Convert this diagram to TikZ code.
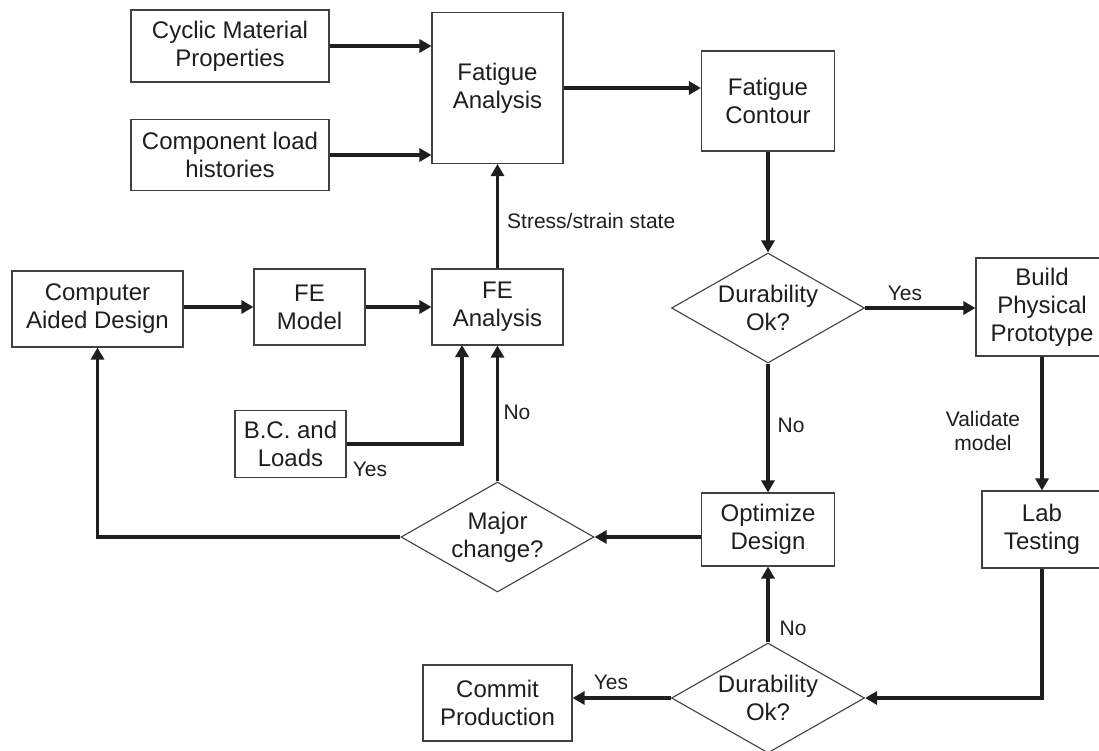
\documentclass[tikz,border=0pt]{standalone}
\usepackage{fontspec}
\setmainfont{Liberation Sans}
\usepackage{tikz}
\usetikzlibrary{arrows.meta}
\usetikzlibrary{shapes.geometric}
\definecolor{ink}{HTML}{1E1E1E}
\tikzstyle{block}=[rectangle, draw=ink!85, line width=1.1pt, text=ink, align=center, inner sep=0pt, font=\fontsize{24}{28}\selectfont]
\tikzstyle{decide}=[diamond, aspect=1.75, draw=ink!85, line width=1.1pt, text=ink, align=center, inner sep=0pt, minimum width=193pt, minimum height=110pt, font=\fontsize{24}{28}\selectfont]
\tikzstyle{flow}=[draw=ink, line width=3.2pt, -{Triangle[length=12pt,width=13pt]}]
\tikzstyle{note}=[text=ink, align=center, inner sep=0pt, font=\fontsize{21}{24.5}\selectfont]

\begin{document}
\begin{tikzpicture}[x=1pt, y=-1pt]
    \useasboundingbox (0,0) rectangle (1099,751);
    \clip (0,0) rectangle (1099,751);

    % boxes
    \node[block, minimum width=198pt, minimum height=72pt] (cyclic) at (230,46) {Cyclic Material\\Properties};
    \node[block, minimum width=198pt, minimum height=71pt] (comp) at (230,155) {Component load\\histories};
    \node[block, minimum width=131pt, minimum height=151pt] (fatan) at (497.5,88) {Fatigue\\Analysis};
    \node[block, minimum width=133pt, minimum height=100pt] (contour) at (768,101) {Fatigue\\Contour};
    \node[block, minimum width=171pt, minimum height=76pt] (cad) at (97.5,309) {Computer\\Aided Design};
    \node[block, minimum width=111pt, minimum height=76pt] (fem) at (309.5,307) {FE\\Model};
    \node[block, minimum width=131pt, minimum height=76pt] (fea) at (497.5,307) {FE\\Analysis};
    \node[decide] (dur1) at (768,308) {Durability\\Ok?};
    \node[block, minimum width=132pt, minimum height=98pt] (build) at (1042,307) {Build\\Physical\\Prototype};
    \node[block, minimum width=111pt, minimum height=67pt] (bcl) at (290.5,444) {B.C. and\\Loads};
    \node[decide] (major) at (497.5,537) {Major\\change?};
    \node[block, minimum width=133pt, minimum height=73pt] (optim) at (768,529.5) {Optimize\\Design};
    \node[block, minimum width=120pt, minimum height=77pt] (lab) at (1042,529.5) {Lab\\Testing};
    \node[decide] (dur2) at (768,698) {Durability\\Ok?};
    \node[block, minimum width=149pt, minimum height=76pt] (commit) at (497.5,703) {Commit\\Production};
    \coordinate (feain) at (462,345);

    % connectors
    \draw[flow] (cyclic.east) -- (cyclic.east -| fatan.west);
    \draw[flow] (comp.east) -- (comp.east -| fatan.west);
    \draw[flow] (fatan.east) -- (fatan.east -| contour.west);
    \draw[flow] (contour.south) -- (dur1.north);
    \draw[flow] (dur1.east) -- (dur1.east -| build.west);
    \draw[flow] (build.south) -- (lab.north);
    \draw[flow] (lab.south) |- (dur2.east);
    \draw[flow] (dur1.south) -- (optim.north);
    \draw[flow] (dur2.north) -- (optim.south);
    \draw[flow] (dur2.west) -- (dur2.west -| commit.east);
    \draw[flow] (optim.west |- major.east) -- (major.east);
    \draw[flow] (major.north) -- (fea.south);
    \draw[flow] (major.west) -| (cad.south);
    \draw[flow] (bcl.east) -| (feain);
    \draw[flow] (fea.north) -- (fatan.south);
    \draw[flow] (fem.west -| cad.east) -- (fem.west);
    \draw[flow] (fem.east) -- (fea.west);

    % labels
    \node[note, anchor=west] (lstress) at (507,221) {Stress/strain state};
    \node[note] (lyes1) at (905,293) {Yes};
    \node[note] (lvalid) at (983,431) {Validate\\model};
    \node[note] (lno1) at (791,425) {No};
    \node[note] (lno2) at (793,628) {No};
    \node[note] (lyes2) at (611,682) {Yes};
    \node[note] (lno3) at (517,412) {No};
    \node[note] (lyes3) at (370,469) {Yes};
\end{tikzpicture}
\end{document}
